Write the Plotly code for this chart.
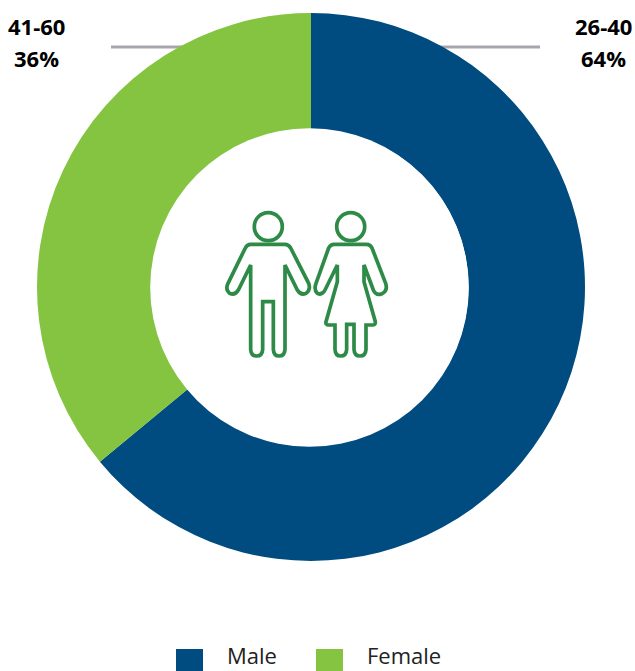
import plotly.graph_objects as go

WIDTH, HEIGHT = 635, 671

categories = ["Male", "Female"]
shares = [64, 36]
age_bands = ["26-40", "41-60"]
colors = ["#004B7F", "#84C441"]
LEADER = "#A7A6AE"
ICON = "#2E8B47"
ICON_WIDTH = 3.7
FONT = "Open Sans"


def px(x):
    return x / WIDTH


def py(y):
    return 1 - y / HEIGHT


def icon_path(points):
    """Build a closed SVG path from icon-space commands, scaled to paper units."""
    parts = []
    for cmd, *coords in points:
        out = []
        for i in range(0, len(coords), 2):
            out.append(f"{px(210 + coords[i] / 3):.5f},{py(200 + coords[i + 1] / 3):.5f}")
        parts.append(cmd + " ".join(out))
    return " ".join(parts) + " Z"


male_body = [
    ("M", 122, 133), ("L", 225, 133), ("Q", 236, 133, 242, 144),
    ("L", 296, 250), ("Q", 303, 270, 288, 280), ("Q", 272, 287, 262, 270),
    ("L", 225, 195), ("L", 225, 448), ("Q", 224, 468, 207, 468),
    ("Q", 191, 468, 190, 448), ("L", 190, 305), ("L", 158, 305),
    ("L", 158, 448), ("Q", 157, 468, 140, 468), ("Q", 123, 468, 122, 448),
    ("L", 122, 195), ("L", 85, 270), ("Q", 75, 287, 59, 280),
    ("Q", 45, 268, 54, 250), ("L", 106, 144), ("Q", 111, 133, 122, 133),
]

female_body = [
    ("M", 372, 133), ("L", 470, 133), ("Q", 481, 133, 486, 144),
    ("L", 527, 250), ("Q", 534, 272, 516, 281), ("Q", 498, 288, 490, 270),
    ("L", 462, 195), ("L", 462, 245), ("L", 496, 365), ("Q", 497, 375, 487, 375),
    ("L", 468, 375), ("L", 468, 448), ("Q", 467, 468, 450, 468),
    ("Q", 433, 468, 432, 448), ("L", 432, 373), ("L", 410, 373),
    ("L", 410, 448), ("Q", 409, 468, 392, 468), ("Q", 376, 468, 375, 448),
    ("L", 375, 375), ("L", 356, 375), ("Q", 346, 375, 348, 365),
    ("L", 382, 245), ("L", 382, 195), ("L", 345, 270), ("Q", 336, 287, 322, 280),
    ("Q", 311, 270, 318, 250), ("L", 356, 144), ("Q", 361, 133, 372, 133),
]


def circle(cx, cy, r, **style):
    return dict(
        type="circle", xref="paper", yref="paper",
        x0=px(cx - r), x1=px(cx + r), y0=py(cy + r), y1=py(cy - r),
        layer="above", **style,
    )


head_line = dict(color=ICON, width=ICON_WIDTH)
shapes = [
    # Leader lines pass behind the ring
    dict(type="line", xref="paper", yref="paper", x0=px(111), x1=px(250), y0=py(47), y1=py(47),
         line=dict(color=LEADER, width=3), layer="below"),
    dict(type="line", xref="paper", yref="paper", x0=px(400), x1=px(540), y0=py(47), y1=py(47),
         line=dict(color=LEADER, width=3), layer="below"),
    # Centre disc sits slightly left of the ring's own centre
    circle(309.5, 287.5, 159.3, fillcolor="white", line=dict(width=0)),
    circle(268.3, 226.7, 14, line=head_line),
    circle(350.7, 226.7, 14, line=head_line),
]
for body in (male_body, female_body):
    shapes.append(dict(type="path", xref="paper", yref="paper", path=icon_path(body),
                       line=dict(color=ICON, width=ICON_WIDTH), layer="above"))

# Legend swatches
for name, color, left in zip(categories, colors, (176, 316)):
    shapes.append(dict(type="rect", xref="paper", yref="paper",
                       x0=px(left), x1=px(left + 27), y0=py(671), y1=py(649),
                       fillcolor=color, line=dict(width=0)))

annotations = []
for band, share, x in zip(age_bands, shares, (603.7, 36.3)):
    for text, y in ((band, 26), (f"{share}%", 58)):
        annotations.append(dict(
            text=f"<b>{text}</b>", x=px(x), y=py(y), xref="paper", yref="paper",
            showarrow=False, xanchor="center", yanchor="middle", align="center",
            font=dict(family=FONT, size=22, color="#000000"),
        ))
for name, x in zip(categories, (225, 365)):
    annotations.append(dict(
        text=name, x=px(x), y=py(655), xref="paper", yref="paper",
        showarrow=False, xanchor="left", yanchor="middle",
        font=dict(family=FONT, size=22, color="#222222"),
    ))

fig = go.Figure(go.Pie(
    labels=categories, values=shares, hole=157.5 / 274, sort=False,
    direction="clockwise", rotation=0, textinfo="none", hoverinfo="label+percent",
    marker=dict(colors=colors, line=dict(width=0)),
    domain=dict(x=[px(37), px(585)], y=[py(561), py(13)]),
))
fig.update_layout(
    width=WIDTH, height=HEIGHT, margin=dict(l=0, r=0, t=0, b=0),
    paper_bgcolor="white", showlegend=False,
    shapes=shapes, annotations=annotations,
)
fig.write_html("out.html")
